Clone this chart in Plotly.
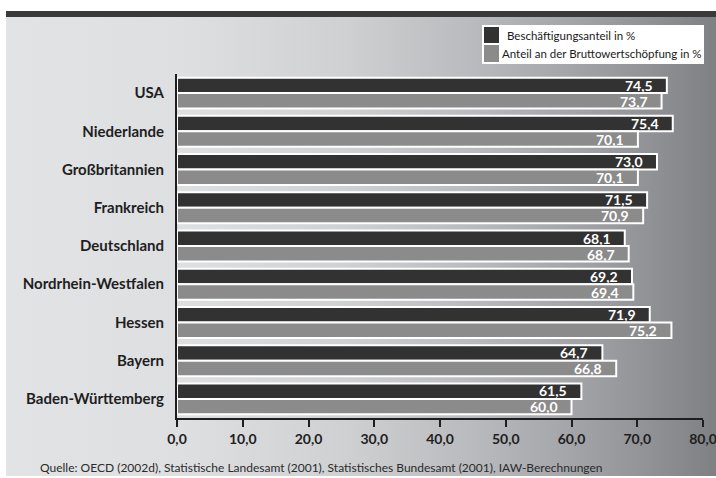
import base64
import plotly.graph_objects as go

# Regions, top to bottom
regions = [
    "USA", "Niederlande", "Großbritannien", "Frankreich", "Deutschland",
    "Nordrhein-Westfalen", "Hessen", "Bayern", "Baden-Württemberg",
]
# Beschäftigungsanteil in %
employment_share = [74.5, 75.4, 73.0, 71.5, 68.1, 69.2, 71.9, 64.7, 61.5]
# Anteil an der Bruttowertschöpfung in %
value_added_share = [73.7, 70.1, 70.1, 70.9, 68.7, 69.4, 75.2, 66.8, 60.0]

series_names = ["Beschäftigungsanteil in %", "Anteil an der Bruttowertschöpfung in %"]
tick_values = [0, 10, 20, 30, 40, 50, 60, 70, 80]
tick_labels = ["0,0", "10,0", "20,0", "30,0", "40,0", "50,0", "60,0", "70,0", "80,0"]
source_note = ("Quelle: OECD (2002d), Statistische Landesamt (2001), "
               "Statistisches Bundesamt (2001), IAW-Berechnungen")

DARK = "#323232"
GREY = "#8b8b8b"
FONT = "Lato"

W, H = 716, 478
L, R, T, B = 177, 13, 74, 60
PW, PH = W - L - R, H - T - B


def px_x(px):
    return (px - L) / PW


def px_y(py):
    return (H - B - py) / PH


def de(v):
    return f"{v:.1f}".replace(".", ",")


fig = go.Figure()
for vals, color, name in [(employment_share, DARK, series_names[0]),
                          (value_added_share, GREY, series_names[1])]:
    fig.add_trace(go.Bar(
        x=vals, y=regions, orientation="h", name=name,
        marker=dict(color=color, line=dict(color="white", width=2)),
        showlegend=False, hoverinfo="x+y",
    ))

# value labels at the inner end of each bar
annotations = []
for vals, shift in [(employment_share, 8), (value_added_share, -8)]:
    for reg, v in zip(regions, vals):
        annotations.append(dict(
            x=v, y=reg, xref="x", yref="y", text=de(v), showarrow=False,
            xanchor="right", yanchor="middle", xshift=-12, yshift=shift,
            font=dict(family=FONT, size=14, color="white", weight="bold"),
        ))

# source line
annotations.append(dict(
    x=px_x(38), y=px_y(467), xref="paper", yref="paper", text=source_note,
    showarrow=False, xanchor="left", yanchor="middle",
    font=dict(family=FONT, size=12, color="#2a2a2a"),
))

# legend box (drawn by hand)
shapes = []
lx0, lx1, ly0, ly1 = 482, 704, 25, 64
shapes.append(dict(type="rect", xref="paper", yref="paper", layer="above",
                   x0=px_x(lx0), x1=px_x(lx1), y0=px_y(ly1), y1=px_y(ly0),
                   fillcolor="white", line=dict(width=0)))
legend_rows = [(DARK, series_names[0], 27, 43, 505), (GREY, series_names[1], 45, 62, 500)]
for color, name, top, bottom, tx in legend_rows:
    shapes.append(dict(type="rect", xref="paper", yref="paper", layer="above",
                       x0=px_x(484), x1=px_x(499), y0=px_y(bottom), y1=px_y(top),
                       fillcolor=color, line=dict(width=0)))
    annotations.append(dict(
        x=px_x(tx), y=px_y((top + bottom) / 2), xref="paper", yref="paper", text=name,
        showarrow=False, xanchor="left", yanchor="middle",
        font=dict(family=FONT, size=11.5, color="#1a1a1a"),
    ))

# dark strip along the top
shapes.append(dict(type="rect", xref="paper", yref="paper", layer="below",
                   x0=px_x(6), x1=px_x(716), y0=px_y(17), y1=px_y(11),
                   fillcolor="#3a3a3a", line=dict(width=0)))

# horizontal grey gradient panel behind the chart
stops = [(0.00, "#e2e3e5"), (0.25, "#dedfe1"), (0.48, "#cfd0d2"),
         (0.66, "#b9babd"), (0.80, "#a3a4a7"), (0.90, "#929397"), (1.00, "#7f8084")]
stop_xml = "".join(f'<stop offset="{o}" stop-color="{c}"/>' for o, c in stops)
gw, gh = 710, 459
svg = (f'<svg xmlns="http://www.w3.org/2000/svg" width="{gw}" height="{gh}" '
       f'viewBox="0 0 {gw} {gh}" preserveAspectRatio="none"><defs>'
       f'<linearGradient id="g" x1="0" y1="0" x2="1" y2="0">{stop_xml}</linearGradient>'
       f'</defs><rect width="{gw}" height="{gh}" fill="url(#g)"/></svg>')
svg_uri = "data:image/svg+xml;base64," + base64.b64encode(svg.encode()).decode()

fig.update_layout(
    width=W, height=H,
    margin=dict(l=L, r=R, t=T, b=B),
    paper_bgcolor="white", plot_bgcolor="rgba(0,0,0,0)",
    barmode="group", bargap=0.19, bargroupgap=0.0,
    shapes=shapes, annotations=annotations,
    images=[dict(source=svg_uri, xref="paper", yref="paper",
                 x=px_x(6), y=px_y(17), sizex=(716 - 6) / PW, sizey=(476 - 17) / PH,
                 xanchor="left", yanchor="top", sizing="stretch", layer="below")],
    font=dict(family=FONT, color="#1e1e1e"),
)
fig.update_xaxes(
    range=[0, 80], tickvals=tick_values, ticktext=tick_labels, automargin=False,
    showgrid=False, zeroline=False, showline=True, linecolor="#1e1e1e", linewidth=2,
    ticks="outside", ticklen=7, tickwidth=2, tickcolor="#1e1e1e",
    ticklabeloverflow="allow",
    tickfont=dict(family=FONT, size=14, color="#1e1e1e", weight="bold"),
)
fig.update_yaxes(
    autorange="reversed", showgrid=False, zeroline=False, automargin=False,
    showline=True, linecolor="#1e1e1e", linewidth=2, ticks="",
    ticklabelstandoff=8,
    tickfont=dict(family=FONT, size=15, color="#1e1e1e", weight="bold"),
)

fig.write_html("out.html")
